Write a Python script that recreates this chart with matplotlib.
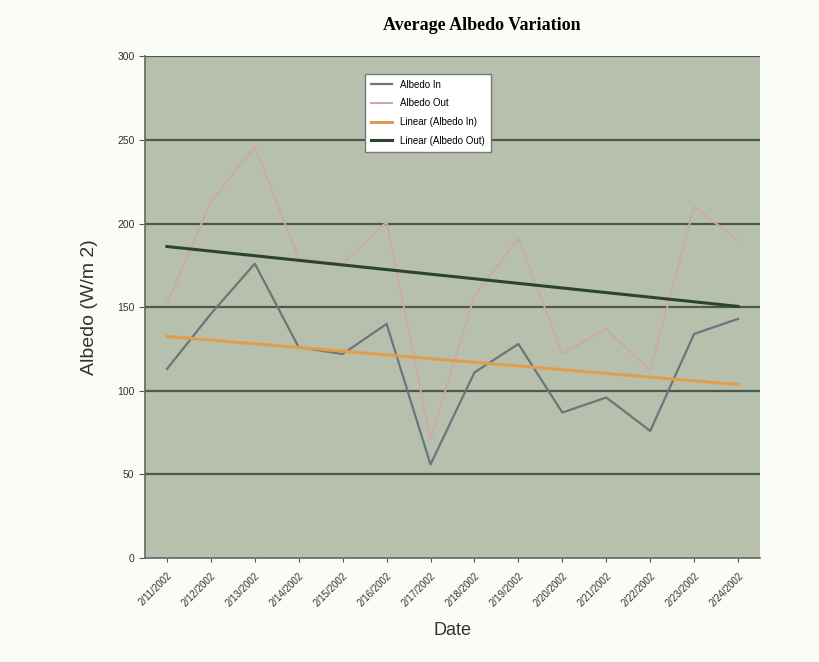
import matplotlib.pyplot as plt
import numpy as np

dates = ["2/11/2002", "2/12/2002", "2/13/2002", "2/14/2002", "2/15/2002",
         "2/16/2002", "2/17/2002", "2/18/2002", "2/19/2002", "2/20/2002",
         "2/21/2002", "2/22/2002", "2/23/2002", "2/24/2002"]
albedo_in = [113, 146, 176, 126, 122, 140, 56, 111, 128, 87, 96, 76, 134, 143]
albedo_out = [152, 213, 246, 179, 176, 201, 71, 157, 191, 122, 137, 112, 210, 190]

x = np.arange(len(dates))

# linear trendlines, like Excel's "Linear (...)" series
fit_in = np.polyval(np.polyfit(x, albedo_in, 1), x)
fit_out = np.polyval(np.polyfit(x, albedo_out, 1), x)

fig = plt.figure(figsize=(8.19, 6.62), dpi=100, facecolor="#fbfbf8")
ax = fig.add_axes([0.177, 0.157, 0.751, 0.758])
ax.set_facecolor("#b7c0ad")

for y in range(50, 301, 50):
    ax.axhline(y, color="#4b5a4a", lw=1.6, zorder=1)

ax.plot(x, albedo_in, color="#6b767c", lw=1.6, label="Albedo In", zorder=3)
ax.plot(x, albedo_out, color="#cba9aa", lw=1.4, label="Albedo Out", zorder=3)
ax.plot(x, fit_in, color="#e09d4c", lw=2.2, label="Linear (Albedo In)", zorder=4)
ax.plot(x, fit_out, color="#2b452c", lw=2.2, label="Linear (Albedo Out)", zorder=4)

ax.set_xlim(-0.5, len(dates) - 0.5)
ax.set_ylim(0, 300)
ax.set_yticks(range(0, 301, 50))
ax.set_xticks(x)
ax.set_xticklabels(dates, rotation=45, ha="right", rotation_mode="anchor",
                   fontsize=7, family="Liberation Sans")
ax.tick_params(axis="y", labelsize=7.5, length=4, color="#555555",
               labelcolor="#333333")
ax.tick_params(axis="x", length=3, color="#555555", labelcolor="#333333", pad=6)
for lbl in ax.get_yticklabels():
    lbl.set_family("Liberation Sans")

for side in ["left", "bottom"]:
    ax.spines[side].set_color("#666666")
    ax.spines[side].set_linewidth(1.2)
for side in ["top", "right"]:
    ax.spines[side].set_visible(False)

ax.set_ylabel("Albedo (W/m 2)", fontsize=14, family="Liberation Sans",
              color="#333333", labelpad=14)
ax.set_xlabel("Date", fontsize=13, family="Liberation Sans",
              color="#333333", labelpad=10)
fig.text(0.588, 0.962, "Average Albedo Variation", ha="center", va="center",
         fontsize=13, fontweight="bold", family="Liberation Serif")

leg = ax.legend(loc="upper left", bbox_to_anchor=(0.35, 0.975), fontsize=7,
                frameon=True, fancybox=False, framealpha=1,
                edgecolor="#777777", borderpad=0.6, labelspacing=0.9,
                handlelength=2.2, prop={"family": "Liberation Sans", "size": 7})
leg.get_frame().set_linewidth(1.0)

fig.savefig("out.png", dpi=100, facecolor=fig.get_facecolor())
